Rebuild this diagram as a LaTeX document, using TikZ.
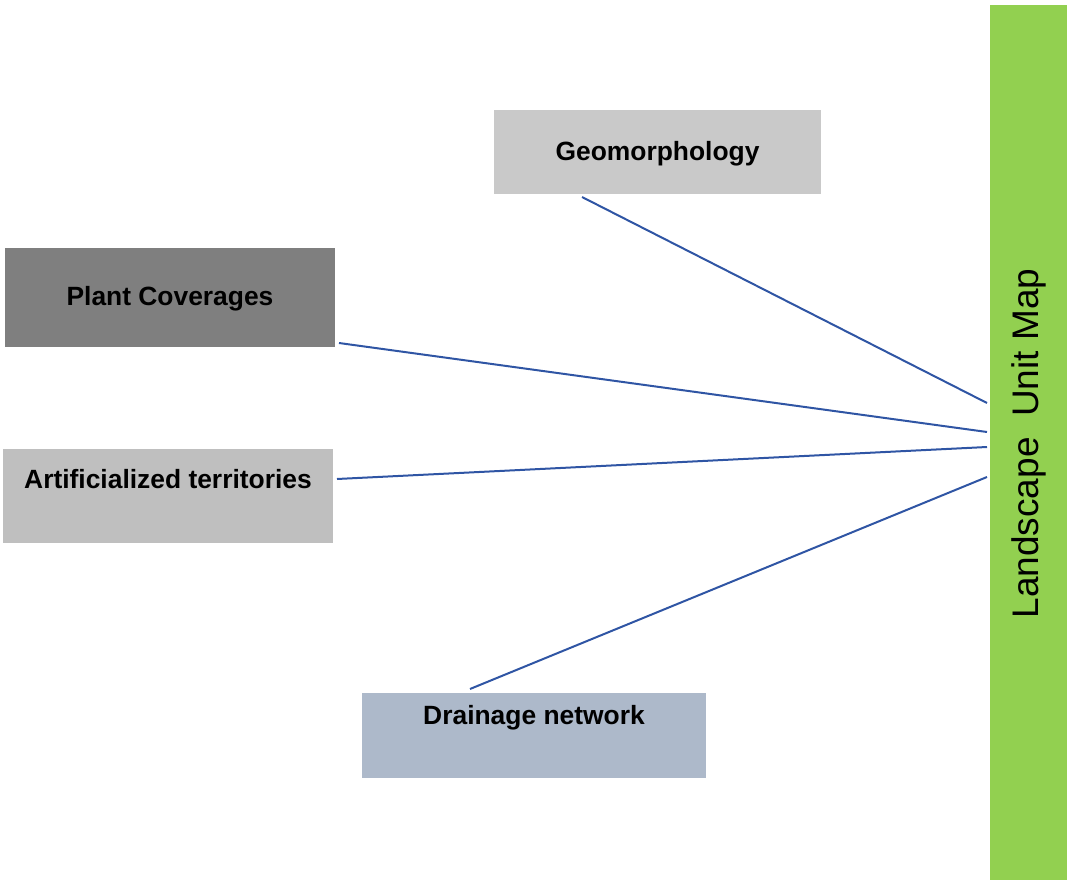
\documentclass[tikz,border=0pt]{standalone}
\usepackage{fontspec}
\setmainfont{Liberation Sans}
\definecolor{geocol}{HTML}{C9C9C9}
\definecolor{plantcol}{HTML}{7F7F7F}
\definecolor{artcol}{HTML}{BFBFBF}
\definecolor{draincol}{HTML}{ADB9CA}
\definecolor{barcol}{HTML}{92D050}
\definecolor{linkcol}{HTML}{2F55A4}
\begin{document}
\begin{tikzpicture}[x=1pt,y=-1pt,
  boxstyle/.style={rectangle,draw=none,inner sep=0pt,outer sep=0pt},
  labelstyle/.style={inner sep=0pt,font=\fontsize{26.4}{30}\selectfont\bfseries,text=black},
  link/.style={draw=linkcol,line width=2pt}]
\useasboundingbox (0,0) rectangle (1070,882);
\node[boxstyle,fill=geocol,minimum width=327pt,minimum height=84pt] (geo) at (657.5,152) {};
\node[labelstyle] (geot) at (657.5,154) {Geomorphology};
\node[boxstyle,fill=plantcol,minimum width=330pt,minimum height=99pt] (plant) at (170,297.5) {};
\node[labelstyle] (plantt) at (170,299) {Plant Coverages};
\node[boxstyle,fill=artcol,minimum width=330pt,minimum height=94pt] (art) at (168,496) {};
\node[labelstyle] (artt) at (168,479) {Artificialized territories};
\node[boxstyle,fill=draincol,minimum width=344pt,minimum height=85pt] (drain) at (534,735.5) {};
\node[labelstyle] (draint) at (534,718) {Drainage network};
\node[boxstyle,fill=barcol,minimum width=77pt,minimum height=875pt] (bar) at (1028.5,442.5) {};
\node[inner sep=0pt,rotate=90,font=\fontsize{37}{40}\selectfont] (bart) at (1029,443.5) {Landscape\ \ Unit Map};
\draw[link] ([shift={(88,3)}]geo.south west) -- ([shift={(-3,398)}]bar.north west);
\draw[link] ([shift={(4,-4)}]plant.south east) -- ([shift={(-3,427)}]bar.north west);
\draw[link] ([shift={(4,-17)}]art.east) -- ([shift={(-3,442)}]bar.north west);
\draw[link] ([shift={(108,-4)}]drain.north west) -- ([shift={(-3,472)}]bar.north west);
\end{tikzpicture}
\end{document}
